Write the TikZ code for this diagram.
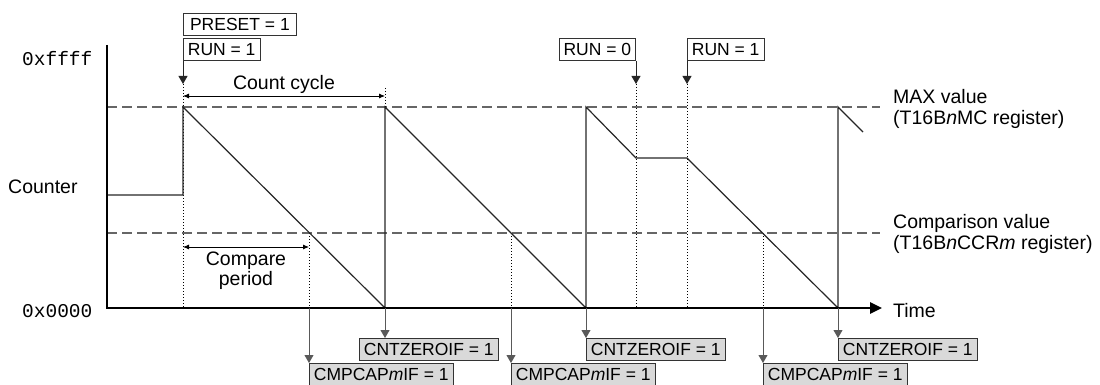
\documentclass[tikz,border=0pt]{standalone}
\usepackage{fontspec}
\setmainfont{Liberation Sans}
\setmonofont{Liberation Mono}
\usetikzlibrary{arrows.meta}

\begin{document}
\begin{tikzpicture}[x=1pt, y=-1pt, font=\fontsize{19.5}{21.5}\selectfont,
  fl/.style={draw=black!80, line width=0.8pt, font=\fontsize{17.5}{19}\selectfont, inner xsep=4.5pt, inner ysep=0pt, minimum height=22pt, anchor=north west},
  irq/.style={fl, fill=gray!30},
  wv/.style={line width=1.2pt, black!85},
  lv/.style={line width=1.4pt, black!60, dash pattern=on 10pt off 5pt},
  gd/.style={line width=0.8pt, dash pattern=on 1pt off 2pt},
  a/.style={-{Triangle[length=8pt, width=9pt]}, line width=0.8pt, black!85},
  ag/.style={a, black!65},
  sp/.style={{Latex[length=6pt, width=5pt]}-{Latex[length=6pt, width=5pt]}, line width=0.8pt},
  t/.style={inner sep=0pt}]
 \useasboundingbox (0,0) rectangle (1100,385);
 % Axes and labels
 \coordinate (yt) at (107,45); \coordinate (o) at (107,308); \coordinate (xe) at (882,308);
 \node[t, anchor=base west] (hi) at (22,66) {\ttfamily 0xffff};
 \node[t, anchor=base west] (lo) at (22,317) {\ttfamily 0x0000};
 \node[t, anchor=base west] (cntr) at (8,193) {Counter};
 \node[t, anchor=base west] (time) at (893,317) {Time};
 \node[t, anchor=north west, align=left] (max) at (893,89) {MAX value\\(T16B\textit{n}MC register)};
 \node[t, anchor=north west, align=left] (cmp) at (893,214) {Comparison value\\(T16B\textit{n}CCR\textit{m} register)};
 \draw[lv] (107,107) -- (880,107);
 \draw[lv] (107,233) -- (880,233);
 % Guides
 \draw[gd] (183,84) -- (183,308);
 \draw[gd] (385,88) -- (385,107);
 \draw[gd] (636,84) -- (636,308);
 \draw[gd] (687,84) -- (687,308);
 \draw[gd] (309,233) -- (309,308);
 \draw[gd] (511,233) -- (511,308);
 \draw[gd] (763,233) -- (763,308);
 % Counter
 \draw[wv] (107,195) -- (183,195) -- (183,107) -- (385,308) -- (385,107) -- (586,308) -- (586,107)
   -- (636,158) -- (687,158) -- (838,308) -- (838,107) -- (863,132);
 \draw[line width=2.6pt, -{Triangle[length=12pt, width=11pt]}] (yt) -- (o) -- (xe);
 % Control bits (top)
 \node[fl, minimum width=113pt] (pre) at (183,13) {PRESET = 1};
 \node[fl] (run1) at (183,38) {RUN = 1};
 \node[fl, anchor=north east] (run0) at (636,38) {RUN = 0};
 \node[fl] (run2) at (687,38) {RUN = 1};
 \coordinate (s1) at (183,84); \coordinate (s2) at (636,84); \coordinate (s3) at (687,84);
 \draw[a] (run1.south west) -- (s1);
 \draw[a] (run0.south east) -- (s2);
 \draw[a] (run2.south west) -- (s3);
 % Periods
 \coordinate (c0) at (183,96); \coordinate (c1) at (385,96);
 \draw[sp] (c0) -- (c1);
 \node[t, anchor=base] (cyc) at (284,90) {Count cycle};
 \coordinate (p0) at (183,247); \coordinate (p1) at (309,247);
 \draw[sp] (p0) -- (p1);
 \node[t, anchor=north, align=center, font=\fontsize{19.5}{19.5}\selectfont] (per) at (246,252) {Compare\\period};
 % Flags (bottom)
 \node[irq] (z1) at (359,338) {CNTZEROIF = 1};
 \node[irq] (z2) at (586,338) {CNTZEROIF = 1};
 \node[irq] (z3) at (838,338) {CNTZEROIF = 1};
 \node[irq] (m1) at (309,363) {CMPCAP\textit{m}IF = 1};
 \node[irq] (m2) at (511,363) {CMPCAP\textit{m}IF = 1};
 \node[irq] (m3) at (763,363) {CMPCAP\textit{m}IF = 1};
 \coordinate (e1) at (385,308); \coordinate (e2) at (586,308); \coordinate (e3) at (838,308);
 \coordinate (k1) at (309,308); \coordinate (k2) at (511,308); \coordinate (k3) at (763,308);
 \draw[ag] (e1) -- (e1 |- z1.north);
 \draw[ag] (e2) -- (e2 |- z2.north);
 \draw[ag] (e3) -- (e3 |- z3.north);
 \draw[ag] (k1) -- (k1 |- m1.north);
 \draw[ag] (k2) -- (k2 |- m2.north);
 \draw[ag] (k3) -- (k3 |- m3.north);
\end{tikzpicture}
\end{document}
